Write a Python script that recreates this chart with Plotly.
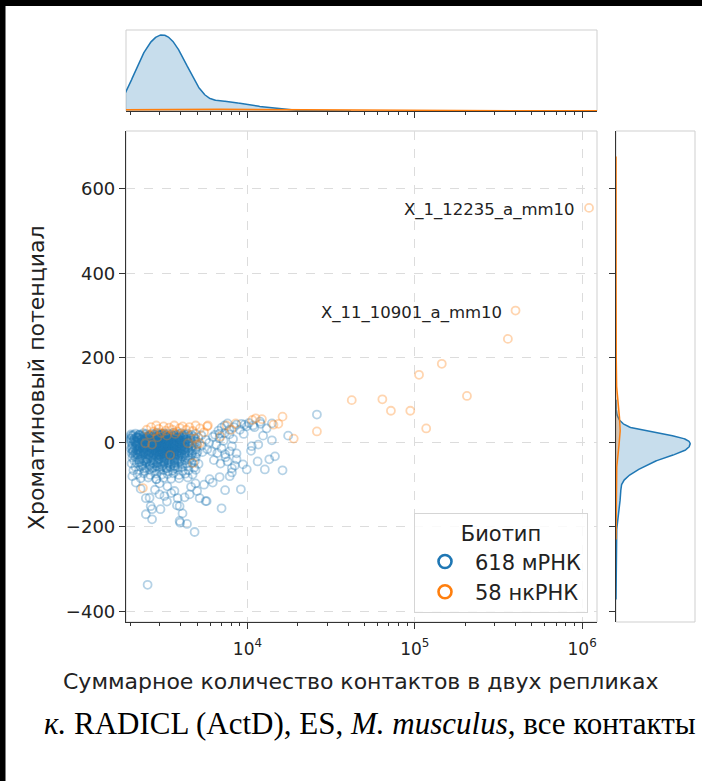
import numpy as np
import plotly.graph_objects as go

# ---------------- data ----------------
# mRNA, dense core of the cloud (y roughly -30..+22)
mrna_core_x = [
    2010, 2140, 2260, 2390, 2470, 2580, 2690, 2770, 2880, 2960, 3070, 3180, 3260, 3370, 3490, 3610, 3740, 3880, 4020, 4190, 4380, 4620, 4910,
    2050, 2170, 2300, 2410, 2520, 2610, 2730, 2820, 2920, 3020, 3120, 3230, 3330, 3440, 3560, 3680, 3810, 3950, 4100, 4280, 4500, 4760, 5080,
    2030, 2110, 2230, 2350, 2440, 2550, 2640, 2750, 2850, 2940, 3040, 3150, 3250, 3360, 3470, 3590, 3720, 3850, 4000, 4160, 4350, 4580, 4850,
    2000, 2090, 2200, 2320, 2430, 2530, 2630, 2720, 2830, 2930, 3030, 3130, 3240, 3350, 3460, 3580, 3710, 3840, 3980, 4140, 4320, 4540, 4800,
    2020, 2130, 2250, 2370, 2460, 2570, 2670, 2780, 2870, 2970, 3080, 3190, 3290, 3410, 3530, 3650, 3780, 3910, 4060, 4230, 4420, 4660, 4950,
    2060, 2180, 2290, 2400, 2500, 2600, 2700, 2800, 2900, 3000, 3100, 3210, 3310, 3420, 3540, 3660, 3790, 3930, 4080, 4250, 4450, 4700, 5000,
    2040, 2160, 2270, 2380, 2490, 2590, 2690, 2790, 2890, 2990, 3090, 3200, 3300, 3400, 3510, 3630, 3760, 3890, 4040, 4210, 4400, 4640, 4930,
    2010, 2120, 2240, 2360, 2450, 2560, 2660, 2760, 2860, 2960, 3060, 3170, 3280, 3390, 3500, 3620, 3750, 3880, 4030, 4200, 4390, 4630, 4920,
    2070, 2190, 2310, 2420, 2510, 2620, 2710, 2810, 2910, 3010, 3110, 3220, 3320, 3430, 3550, 3670, 3800, 3940, 4090, 4260, 4460, 4720, 5030,
    2030, 2150, 2280, 2390, 2480, 2590, 2680, 2790, 2880, 2990, 3090, 3190, 3300, 3410, 3520, 3640, 3770, 3900, 4050, 4220, 4410, 4650, 4960,
    2080, 2200, 2330, 2440, 2540, 2650, 2740, 2840, 2950, 3050, 3160, 3270, 3380, 3500, 3620, 3750, 3890, 4040, 4210, 4410, 4650]
mrna_core_y = [
    19, 21, 18, 22, 20, 17, 21, 19, 23, 18, 20, 22, 17, 21, 19, 23, 18, 20, 22, 19, 21, 18, 20,
    15, 13, 16, 14, 12, 16, 15, 13, 14, 16, 12, 15, 14, 13, 16, 15, 12, 14, 16, 13, 15, 14, 12,
    10, 9, 11, 8, 10, 12, 9, 11, 10, 8, 11, 9, 10, 12, 8, 10, 11, 9, 10, 12, 8, 10, 9,
    5, 6, 4, 7, 5, 3, 6, 4, 5, 7, 3, 6, 5, 4, 6, 5, 3, 7, 4, 5, 6, 4, 5,
    0, 1, -1, 2, 0, -2, 1, 0, -1, 2, 0, 1, -2, 0, 1, -1, 2, 0, -1, 1, 0, -2, 1,
    -5, -4, -6, -3, -5, -7, -4, -6, -5, -3, -6, -4, -5, -7, -4, -6, -5, -3, -6, -4, -5, -7, -4,
    -10, -9, -11, -8, -10, -12, -9, -11, -10, -8, -12, -10, -9, -11, -10, -8, -12, -9, -10, -11, -9, -10, -12,
    -15, -14, -16, -13, -15, -17, -14, -16, -15, -13, -17, -15, -14, -16, -15, -13, -17, -14, -15, -16, -14, -15, -17,
    -20, -19, -21, -18, -20, -22, -19, -21, -20, -18, -22, -20, -19, -21, -20, -18, -22, -19, -20, -21, -19, -20, -22,
    -25, -24, -26, -23, -25, -27, -24, -26, -25, -23, -27, -25, -24, -26, -25, -23, -27, -24, -25, -26, -24, -25, -27,
    -30, -29, -31, -28, -30, -32, -29, -31, -30, -28, -32, -30, -29, -31, -30, -28, -32, -29, -30, -31, -29]

# mRNA, extra points in the densest part of the cloud
mrna_dense_x = [
    2240, 2420, 2600, 2790, 2980, 3190, 3410, 3640, 3890, 4150, 4300,
    2190, 2370, 2560, 2750, 2950, 3160, 3380, 3610, 3860, 4120,
    2280, 2460, 2650, 2840, 3040, 3250, 3470, 3710, 3960, 4240,
    2150, 2340, 2530, 2720, 2920, 3120, 3340, 3570, 3820, 4090,
    2230, 2410, 2610, 2800, 3000, 3210, 3430, 3660, 3920, 4190,
    2170, 2350, 2540, 2740, 2940, 3140, 3360, 3590, 3840, 4110,
    2260, 2440, 2630, 2820, 3020, 3230, 3450, 3690, 3940, 4210,
    2190, 2380, 2570, 2760, 2960, 3170, 3390, 3620, 3870, 4140,
    2250, 2430, 2620, 2810, 3010, 3220, 3440, 3680, 3930,
    2200, 2390, 2580, 2770, 2970, 3180, 3400, 3640, 3900,
    2300, 2520, 2740, 2960, 3190, 3430, 3690, 3960,
    2260, 2480, 2700, 2930, 3160, 3400, 3660, 3930,
    2350, 2600, 2860, 3120, 3390, 3680,
    2400, 2700, 3000, 3300, 3650,
    2810, 2868, 2933, 2987, 3052, 3114, 3169, 3236, 3291, 3347,
    2842, 2905, 2958, 3023, 3077, 3146, 3198, 3262, 3318,
    2776, 2893, 3004, 3127, 3243, 3382]
mrna_dense_y = [
    17, 18, 16, 18, 17, 19, 16, 18, 17, 16, 18,
    12, 13, 11, 12, 13, 11, 12, 13, 11, 12,
    7, 8, 6, 7, 8, 6, 7, 8, 6, 7,
    2, 3, 1, 2, 3, 1, 2, 3, 1, 2,
    -3, -2, -4, -3, -2, -4, -3, -2, -4, -3,
    -8, -7, -9, -8, -7, -9, -8, -7, -9, -8,
    -13, -12, -14, -13, -12, -14, -13, -12, -14, -13,
    -18, -17, -19, -18, -17, -19, -18, -17, -19, -18,
    -23, -22, -24, -23, -22, -24, -23, -22, -24,
    -28, -27, -29, -28, -27, -29, -28, -27, -29,
    -40, -39, -41, -40, -39, -41, -40, -39,
    -47, -46, -48, -47, -46, -48, -47, -46,
    -55, -54, -56, -55, -54, -56,
    -62, -61, -63, -62, -61,
    14, -21, 6, -33, 18, -9, 1, -26, 10, -16,
    -3, 20, -29, 8, -12, 15, -36, -5, 3,
    -18, 11, -24, 19, -7, -30]

# mRNA, left edge of the cloud (just above 2000 contacts)
mrna_left_x = [2015, 2065, 2095, 2145, 2185, 2215, 2270, 2305, 2345, 2375, 2425, 2455, 2510,
               2005, 2055, 2085, 2135, 2165, 2225, 2255]
mrna_left_y = [16, -22, 4, -35, 11, -8, 19, -27, -1, -14, 8, -40, 13,
               9, -15, 18, -28, -2, 12, -20]

# mRNA, lower part of the cloud (y roughly -35..-85)
mrna_low_x = [
    2050, 2210, 2350, 2480, 2600, 2720, 2850, 2970, 3100, 3230, 3370, 3520, 3680, 3850, 4050, 4280, 4560, 4900,
    2100, 2260, 2400, 2530, 2660, 2790, 2920, 3050, 3190, 3330, 3480, 3640, 3810, 4000, 4230, 4500, 4850,
    2030, 2180, 2330, 2470, 2610, 2750, 2890, 3030, 3180, 3330, 3490, 3660, 3850, 4070, 4330, 4650, 5100,
    2140, 2300, 2460, 2620, 2780, 2940, 3100, 3270, 3450, 3640, 3850, 4100, 4400, 4800,
    2080, 2250, 2430, 2600, 2780, 2960, 3150, 3350, 3570, 3820, 4100, 4450, 4900,
    2200, 2400, 2620, 2850, 3080, 3330, 3600, 3900, 4250, 4700,
    2300, 2550, 2850, 3150, 3500, 3900, 4400]
mrna_low_y = [
    -36, -35, -38, -34, -37, -36, -35, -38, -36, -34, -37, -35, -36, -38, -34, -36, -37, -35,
    -43, -42, -44, -41, -43, -45, -42, -44, -43, -41, -45, -43, -42, -44, -43, -41, -44,
    -50, -49, -52, -48, -51, -50, -49, -52, -50, -48, -51, -50, -49, -52, -50, -48, -51,
    -58, -57, -60, -56, -59, -58, -57, -60, -58, -56, -59, -58, -57, -60,
    -66, -65, -68, -64, -67, -66, -65, -68, -66, -64, -67, -66, -65,
    -75, -73, -77, -74, -76, -75, -73, -77, -74, -76,
    -85, -83, -87, -84, -86, -85, -83]

# mRNA, scattered points outside the cloud
mrna_tail_x = [2530, 4830, 4350, 3960, 4090, 2690, 2470, 2690, 2600, 3790, 3830, 4210, 2980, 3020, 5620, 7000,
               7350, 9130, 4890, 5940, 6820, 8070, 9900, 12700, 16200, 14600, 10600, 11600, 12400, 14000, 17500,
               26000, 8600, 9400, 7350, 8070, 7800, 8600, 9900, 11900, 13000, 14000, 7600, 6820,
               2470, 2640, 3930, 3930, 5700, 3660, 2980, 3190, 2860, 3320, 4510, 5180, 7830, 8070, 8600, 7830,
               7300, 9200, 10800, 12000, 9500, 8200, 10500, 11500, 7600, 8400, 13500, 2300, 2150, 2050, 3500,
               4600, 5500, 6200, 2800, 3300, 5000,
               7000, 7800, 8300, 9000, 9600, 10200, 11000,
               6400, 6800, 7200, 6500, 7000, 6600, 7400, 6300, 6900, 7300, 6700,
               5300, 6200, 5650, 5900, 5320, 5750, 6100, 5380]
mrna_tail_y = [-337, -212, -193, -190, -168, -182, -170, -158, -131, -149, -132, -130, -123, -158, -139, -156,
               -113, -111, -97, -87, -82, -71, -64, -64, -66, -33, -9, -5, 16, 5, 16,
               66, -26, -52, -28, -9, 19, 42, 38, 49, 33, 45, 45, 21,
               -132, -151, -151, -186, -139, -115, -97, -127, -87, -104, -123, -132, -80, -61, -40, -21,
               40, 44, 40, 44, 20, 8, -20, -45, -45, -55, -40, -110, -95, -80, -120,
               -105, -100, -95, -112, -140, -115,
               35, 30, 36, 30, 42, 46, 36,
               18, 10, 4, -5, -14, -25, -35, -42, -50, 22, 28,
               17, 13, 6, -1, -8, -16, -21, -23]

# ncRNA
ncrna_x = [1100000, 400000, 360000, 145000, 106000, 205000, 64000, 42000, 72000, 94000, 117000, 26000, 18900,
           16200, 14300, 11200, 8500, 6900, 5740, 5000, 4740, 2370, 2690, 10700, 12200, 15300, 5180, 4890, 7500, 8000,
           2500, 2650, 2750, 2850, 2950, 3050, 3150, 3250, 3400, 3550, 3650, 3800, 3950, 4100, 4300, 4500, 4700,
           4900, 5200, 5500, 2600, 2900, 3300, 3700, 4400, 2450, 3450, 5800]
ncrna_y = [555, 312, 245, 186, 160, 110, 102, 100, 75, 75, 33, 26, 9,
           61, 42, 57, 45, 14, 38, -5, -49, -108, -5, 53, 55, 44, -2, 9, 40, 30,
           30, 36, 26, 40, 32, 22, 38, 28, 35, 30, 40, 26, 34, 38, 30, 36, 27,
           40, 33, 24, 18, 12, 16, 20, -2, -2, -30, 40]

series_names = ["618 мРНК", "58 нкРНК"]
legend_title = "Биотип"
x_title = "Суммарное количество контактов в двух репликах"
y_title = "Хроматиновый потенциал"
caption = "<i>к.</i> RADICL (ActD), ES, <i>M. musculus</i>, все контакты"
label_names = ["X_1_12235_a_mm10", "X_11_10901_a_mm10"]
label_x = [1100000, 400000]
label_y = [555, 312]
y_ticks = [-400, -200, 0, 200, 400, 600]
x_major_ticks = [1e4, 1e5, 1e6]
x_major_text = ["10<sup>4</sup>", "10<sup>5</sup>", "10<sup>6</sup>"]
x_minor_ticks = [2e3, 3e3, 4e3, 5e3, 6e3, 7e3, 8e3, 9e3,
                 2e4, 3e4, 4e4, 5e4, 6e4, 7e4, 8e4, 9e4,
                 2e5, 3e5, 4e5, 5e5, 6e5, 7e5, 8e5, 9e5]

# ---------------- styling ----------------
W, H = 702, 781
BLUE = "#1f77b4"
ORANGE = "#ff7f0e"
FONT = "DejaVu Sans"
TXT = "#222222"
AX = "#333333"
BOX = "#cfcfcf"
GRID = "#dcdcdc"

X_RANGE = [3.274, 6.089]
Y_RANGE = [-425, 737]
TOP_BW_ADJUST = 1.4


def fx(p):
    return p / W


def fy(p):
    return 1 - p / H


main_xd = [fx(126), fx(597)]
main_yd = [fy(622), fy(131)]
top_yd = [fy(111), fy(30)]
right_xd = [fx(616), fx(695)]

mrna_x = mrna_core_x + mrna_dense_x + mrna_left_x + mrna_low_x + mrna_tail_x
mrna_y = mrna_core_y + mrna_dense_y + mrna_left_y + mrna_low_y + mrna_tail_y


def scott(v):
    v = np.asarray(v, dtype=float)
    return float(np.std(v, ddof=1) * len(v) ** (-0.2))


def kde(vals, total, adjust=1.0, n=500):
    """Gaussian KDE (Scott bandwidth, cut=3), weighted by share of all points."""
    v = np.asarray(vals, dtype=float)
    bw = scott(v) * adjust
    grid = np.linspace(v.min() - 3 * bw, v.max() + 3 * bw, n)
    d = np.exp(-0.5 * ((grid[:, None] - v[None, :]) / bw) ** 2).sum(axis=1)
    d = d / (len(v) * bw * np.sqrt(2 * np.pi))
    return grid, d * len(v) / total


n_all = len(mrna_x) + len(ncrna_x)
top_curves = [kde(np.log10(mrna_x), n_all, TOP_BW_ADJUST), kde(np.log10(ncrna_x), n_all, TOP_BW_ADJUST)]
right_curves = [kde(mrna_y, n_all), kde(ncrna_y, n_all)]
top_max = max(c[1].max() for c in top_curves)
right_max = max(c[1].max() for c in right_curves)

fig = go.Figure()

# scatter
for xs, ys, col in [(mrna_x, mrna_y, BLUE), (ncrna_x, ncrna_y, ORANGE)]:
    fig.add_trace(go.Scatter(
        x=xs, y=ys, mode="markers", xaxis="x", yaxis="y", showlegend=False, hoverinfo="skip",
        marker=dict(symbol="circle-open", size=8, color=col, opacity=0.33, line=dict(width=1.8)),
    ))

# legend entries
for name, col in zip(series_names, [BLUE, ORANGE]):
    fig.add_trace(go.Scatter(
        x=[None], y=[None], mode="markers", name=name, xaxis="x", yaxis="y",
        marker=dict(symbol="circle-open", size=13, color=col, line=dict(width=2.6)),
    ))

fills = {BLUE: "rgba(31,119,180,0.25)", ORANGE: "rgba(255,127,14,0.25)"}

for (g, d), col in zip(top_curves, [BLUE, ORANGE]):
    fig.add_trace(go.Scatter(
        x=g, y=d, mode="lines", fill="tozeroy", fillcolor=fills[col], line=dict(color=col, width=1.5),
        xaxis="x2", yaxis="y2", showlegend=False, hoverinfo="skip",
    ))
for (g, d), col in zip(right_curves, [BLUE, ORANGE]):
    fig.add_trace(go.Scatter(
        x=d, y=g, mode="lines", fill="tozerox", fillcolor=fills[col], line=dict(color=col, width=1.5),
        xaxis="x3", yaxis="y3", showlegend=False, hoverinfo="skip",
    ))

fig.update_layout(
    width=W, height=H, margin=dict(l=0, r=0, t=0, b=0),
    paper_bgcolor="white", plot_bgcolor="white",
    xaxis=dict(domain=main_xd, type="log", range=X_RANGE, anchor="y",
               tickvals=x_major_ticks, ticktext=x_major_text,
               tickfont=dict(family=FONT, size=17, color=TXT), ticklabelstandoff=5,
               ticks="outside", ticklen=6, tickwidth=1, tickcolor=AX,
               showline=True, linecolor=AX, linewidth=1.2,
               showgrid=True, gridcolor=GRID, griddash="dash", gridwidth=1, zeroline=False,
               minor=dict(tickvals=x_minor_ticks, ticks="outside", ticklen=3, tickcolor=AX, showgrid=False),
               automargin=False),
    yaxis=dict(domain=main_yd, range=Y_RANGE, anchor="x", tickvals=y_ticks,
               ticktext=[("\u2212" + str(abs(v))) if v < 0 else str(v) for v in y_ticks],
               tickfont=dict(family=FONT, size=18, color=TXT), ticks="outside", ticklen=6, tickcolor=AX,
               showline=True, linecolor=AX, linewidth=1.2,
               showgrid=True, gridcolor=GRID, griddash="dash", gridwidth=1, zeroline=False,
               automargin=False),
    xaxis2=dict(domain=main_xd, range=X_RANGE, anchor="y2", type="linear",
                tickvals=list(np.log10(x_major_ticks)), showticklabels=False,
                ticks="outside", ticklen=6, tickcolor=AX, showline=True, linecolor=AX, linewidth=1.2,
                showgrid=False, zeroline=False,
                minor=dict(tickvals=list(np.log10(x_minor_ticks)), ticks="outside", ticklen=3, tickcolor=AX,
                           showgrid=False),
                automargin=False),
    yaxis2=dict(domain=top_yd, range=[0, 1.065 * top_max], anchor="x2", type="linear", visible=False),
    xaxis3=dict(domain=right_xd, range=[0, 1.065 * right_max], anchor="y3", type="linear", visible=False),
    yaxis3=dict(domain=main_yd, range=Y_RANGE, anchor="x3", type="linear", tickvals=y_ticks,
                showticklabels=False, ticks="outside", ticklen=6, tickcolor=AX,
                showline=True, linecolor=AX, linewidth=1.2, showgrid=False, zeroline=False,
                automargin=False),
    legend=dict(x=fx(588), y=fy(613), xanchor="right", yanchor="bottom",
                bgcolor="rgba(255,255,255,0.85)", bordercolor="#d5d5d5", borderwidth=1,
                font=dict(family=FONT, size=21, color=TXT),
                title=dict(text=legend_title, font=dict(family=FONT, size=21, color=TXT), side="top center"),
                itemwidth=50),
    showlegend=True,
)

shapes = []
for (x0, x1), (y0, y1) in [(main_xd, main_yd), (main_xd, top_yd), (right_xd, main_yd)]:
    shapes.append(dict(type="rect", xref="paper", yref="paper", x0=x0, x1=x1, y0=y0, y1=y1,
                       line=dict(color=BOX, width=1), fillcolor="rgba(0,0,0,0)", layer="below"))
shapes.append(dict(type="rect", xref="paper", yref="paper", x0=0, x1=fx(5.5), y0=0, y1=1,
                   line=dict(width=0), fillcolor="black", layer="above"))
shapes.append(dict(type="rect", xref="paper", yref="paper", x0=0, x1=1, y0=fy(6), y1=1,
                   line=dict(width=0), fillcolor="black", layer="above"))
fig.update_layout(shapes=shapes)

ann = []
for name, lx, ly in zip(label_names, label_x, label_y):
    ann.append(dict(x=float(np.log10(lx)), y=ly, xref="x", yref="y", text=name, showarrow=False,
                    xanchor="right", yanchor="middle", xshift=-12, yshift=-2,
                    font=dict(family=FONT, size=16.5, color=TXT)))
ann.append(dict(x=(main_xd[0] + main_xd[1]) / 2, y=fy(681), xref="paper", yref="paper", text=x_title,
                showarrow=False, xanchor="center", yanchor="middle",
                font=dict(family=FONT, size=22, color=TXT)))
ann.append(dict(x=fx(37), y=fy(378), xref="paper", yref="paper", text=y_title,
                showarrow=False, xanchor="center", yanchor="middle", textangle=-90,
                font=dict(family=FONT, size=22, color=TXT)))
ann.append(dict(x=fx(370), y=fy(723), xref="paper", yref="paper", text=caption,
                showarrow=False, xanchor="center", yanchor="middle",
                font=dict(family="Liberation Serif", size=31, color="black")))
fig.update_layout(annotations=ann)

fig.write_html("out.html")
